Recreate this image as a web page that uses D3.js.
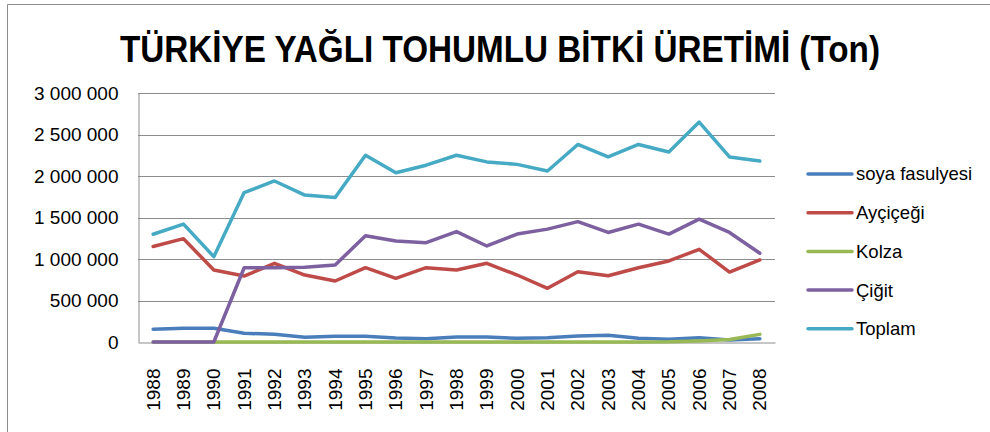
<!DOCTYPE html>
<html>
<head>
<meta charset="utf-8">
<script src="https://cdn.jsdelivr.net/npm/d3@7"></script>
<style>
  body { margin: 0; background: #fff; }
  svg { display: block; font-family: "Liberation Sans", Arial, sans-serif; }
</style>
</head>
<body>
<div id="wrapper"></div>
<script>
const years = ["1988","1989","1990","1991","1992","1993","1994","1995","1996","1997","1998",
               "1999","2000","2001","2002","2003","2004","2005","2006","2007","2008"]

const soya = [153000,165000,165000,105000,93000,57000,69000,69000,48000,40000,60000,
              60000,44000,52000,72000,80000,44000,32000,52000,24000,40000]
const aycicegi = [1150000,1245000,867000,795000,948000,807000,735000,895000,767000,895000,867000,
                  948000,807000,647000,847000,799000,895000,976000,1117000,843000,988000]
const kolza = [0,0,0,0,0,0,0,0,0,0,0,
               0,0,0,0,0,1000,2000,12000,30000,92000]
const cigit = [0,0,0,895000,895000,900000,928000,1280000,1217000,1197000,1330000,
               1157000,1300000,1360000,1450000,1320000,1420000,1300000,1480000,1320000,1070000]
const toplam = [1298000,1420000,1028000,1800000,1940000,1770000,1740000,2250000,2040000,2130000,2250000,
                2170000,2140000,2060000,2380000,2230000,2380000,2290000,2650000,2230000,2180000]

const seriesNames = ["soya fasulyesi","Ayçiçeği","Kolza","Çiğit","Toplam"]
const seriesValues = [soya, aycicegi, kolza, cigit, toplam]
const seriesColors = ["#4a7ebb","#be4b48","#98b954","#7d60a0","#46aac5"]

const yTicks = [0,500000,1000000,1500000,2000000,2500000,3000000]

function drawChart(){
    const width = 990
    const height = 432

    const plot = { left: 138, right: 775, top: 93, bottom: 342 }

    const wrapper = d3.select("#wrapper")
        .append("svg")
        .attr("width", width)
        .attr("height", height)

    // outer frame (chart area border)
    wrapper.append("path")
        .attr("d", `M7.5,${height} V4.5 H${width}`)
        .attr("fill", "none")
        .attr("stroke", "#8c8c8c")
        .attr("stroke-width", 1)

    wrapper.append("text")
        .attr("x", 500)
        .attr("y", 62)
        .attr("text-anchor", "middle")
        .attr("font-family", "'Liberation Sans Narrow', 'Liberation Sans', sans-serif")
        .attr("font-weight", "bold")
        .attr("font-size", 36)
        .attr("textLength", 760)
        .attr("lengthAdjust", "spacingAndGlyphs")
        .attr("fill", "#000")
        .text("TÜRKİYE YAĞLI TOHUMLU BİTKİ ÜRETİMİ (Ton)")

    const xScale = d3.scaleBand()
        .domain(years)
        .range([plot.left, plot.right])
    const xCenter = d => xScale(d) + xScale.bandwidth() / 2

    const yScale = d3.scaleLinear()
        .domain([0, 3000000])
        .range([plot.bottom, plot.top])

    const fmt = d3.formatLocale({ decimal: ",", thousands: " ", grouping: [3], currency: ["", ""] }).format(",")

    // gridlines
    wrapper.append("g")
        .selectAll("line")
        .data(yTicks.slice(1))
        .join("line")
        .attr("x1", plot.left)
        .attr("x2", plot.right)
        .attr("y1", d => Math.round(yScale(d)) + 0.5)
        .attr("y2", d => Math.round(yScale(d)) + 0.5)
        .attr("stroke", "#8c8c8c")
        .attr("stroke-width", 1)

    // y axis
    const yAxis = wrapper.append("g")
        .attr("transform", `translate(${plot.left + 0.5},0)`)
        .call(d3.axisLeft(yScale).tickValues(yTicks).tickSize(0).tickPadding(20).tickFormat(fmt))
    yAxis.select(".domain").attr("stroke", "#8c8c8c")
    yAxis.selectAll("text")
        .attr("font-size", 19)
        .attr("font-family", "'Liberation Sans', Arial, sans-serif")
        .attr("fill", "#000")

    // x axis
    const xAxis = wrapper.append("g")
        .attr("transform", `translate(0,${plot.bottom + 0.5})`)
        .call(d3.axisBottom(xScale).tickSize(0).tickPadding(0))
    xAxis.select(".domain").attr("stroke", "#8c8c8c")
    xAxis.selectAll("text")
        .attr("font-size", 19)
        .attr("font-family", "'Liberation Sans', Arial, sans-serif")
        .attr("fill", "#000")
        .attr("text-anchor", "end")
        .attr("transform", "translate(0,26) rotate(-90)")
        .attr("x", 0)
        .attr("y", 0)
        .attr("dy", "0.35em")

    // lines
    const lineGen = d3.line()
        .x((d, i) => xCenter(years[i]))
        .y(d => yScale(d))

    wrapper.append("g")
        .selectAll("path")
        .data(seriesValues)
        .join("path")
        .attr("d", d => lineGen(d))
        .attr("fill", "none")
        .attr("stroke", (d, i) => seriesColors[i])
        .attr("stroke-width", 3.5)
        .attr("stroke-linejoin", "round")
        .attr("stroke-linecap", "round")

    // legend
    const legend = wrapper.append("g")
        .selectAll("g")
        .data(seriesNames)
        .join("g")
        .attr("transform", (d, i) => `translate(808,${174 + i * 38.7})`)

    legend.append("line")
        .attr("x1", 0)
        .attr("x2", 44)
        .attr("stroke", (d, i) => seriesColors[i])
        .attr("stroke-width", 3.5)
        .attr("stroke-linecap", "round")

    legend.append("text")
        .attr("x", 48)
        .attr("dy", "0.35em")
        .attr("font-size", 18.5)
        .attr("fill", "#000")
        .text(d => d)
}

drawChart()
</script>
</body>
</html>
